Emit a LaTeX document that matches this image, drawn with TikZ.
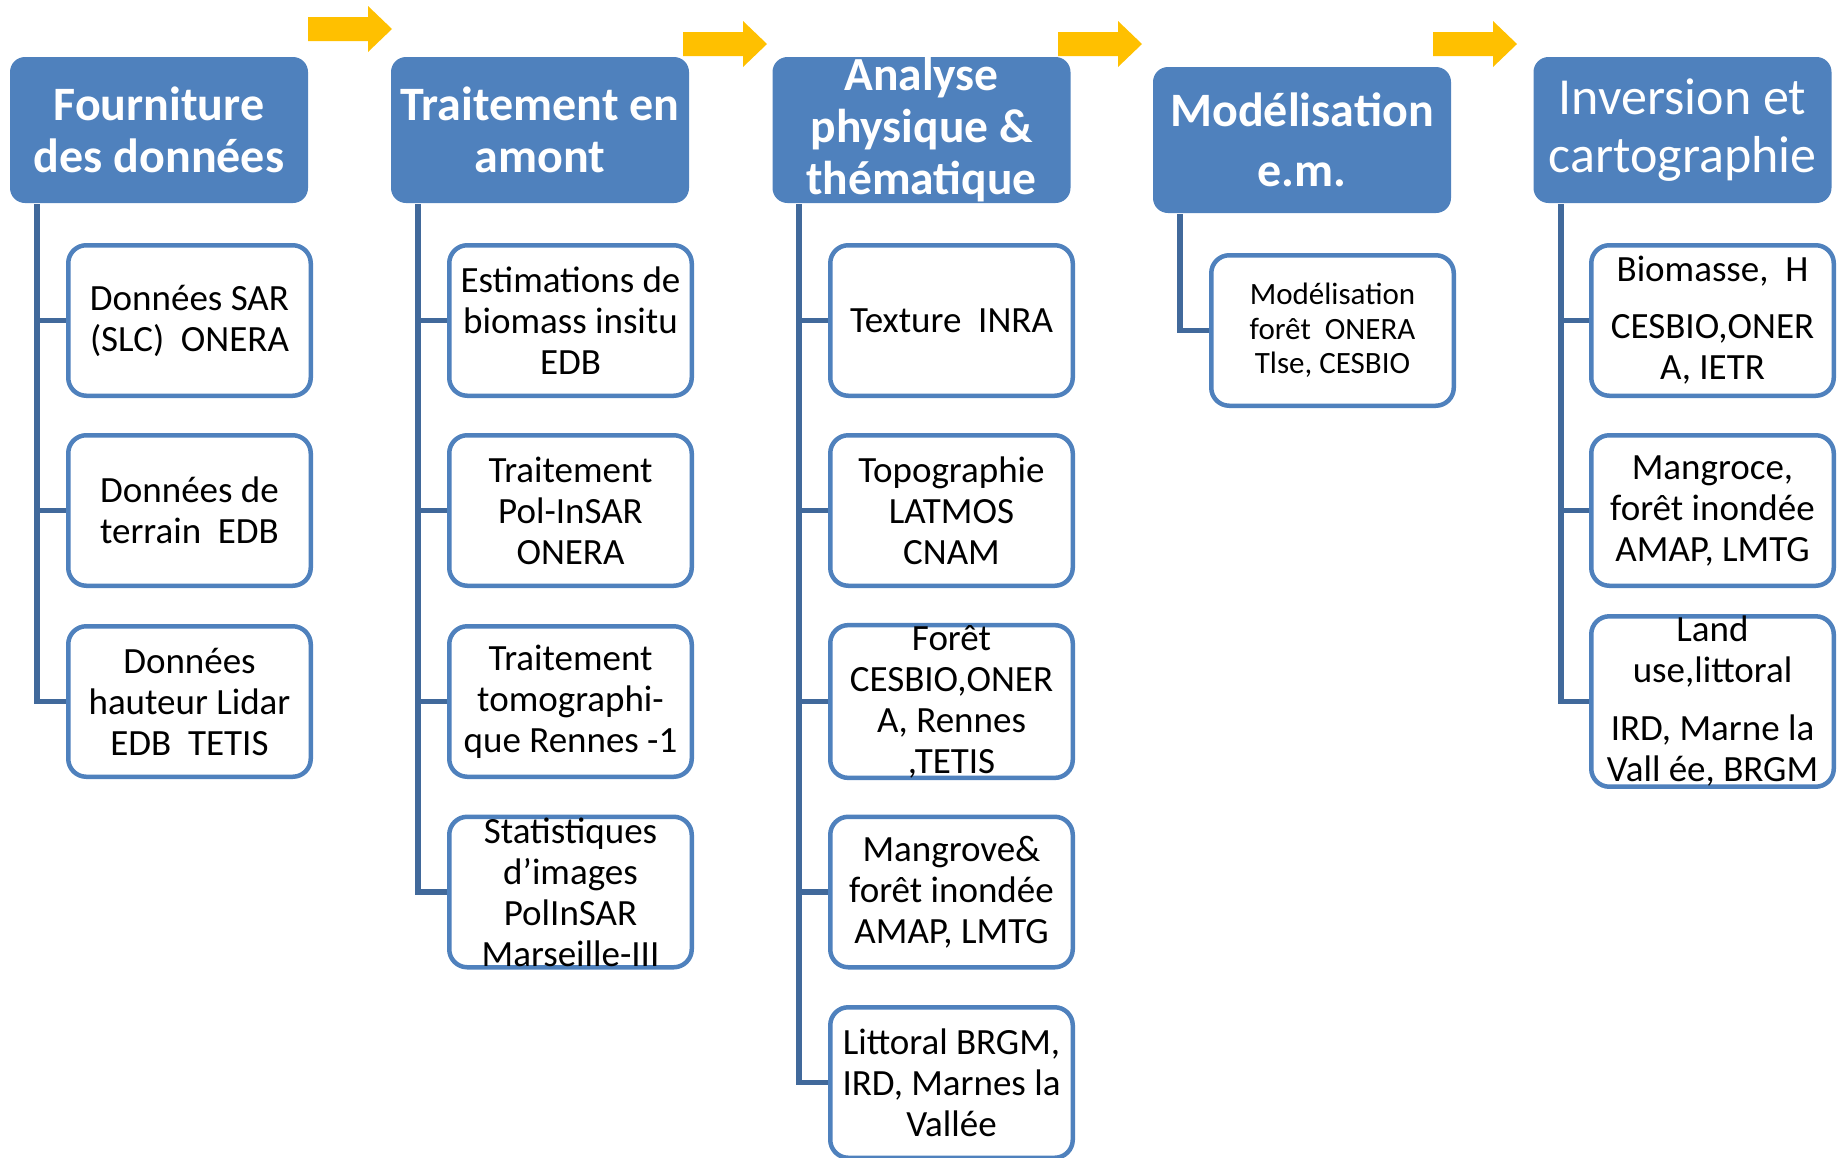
\documentclass[tikz,border=0pt]{standalone}
\usepackage{fontspec}
\setmainfont{Carlito}

\definecolor{ccbleu}{RGB}{79,129,189}
\definecolor{cctrait}{RGB}{65,105,155}
\definecolor{ccjaune}{RGB}{255,192,0}

\tikzset{
  etape/.style={fill=ccbleu, rounded corners=15pt, text=white, minimum width=298pt, minimum height=146pt, align=center, inner sep=0pt},
  tache/.style={draw=ccbleu, line width=4.5pt, fill=white, rounded corners=18pt, minimum width=242.5pt, minimum height=150.5pt, align=center, inner sep=0pt, font=\fontsize{37}{41}\selectfont},
  lien/.style={cctrait, line width=5.5pt},
  fleche/.style={fill=ccjaune}
}

\begin{document}
\begin{tikzpicture}[x=1pt, y=-1pt]

  \useasboundingbox (0,0) rectangle (1839,1157);

  % Fleches
  \fill[fleche] (308,17) -- ++(60,0) -- ++(0,-11) -- ++(24,23) -- ++(-24,23) -- ++(0,-11) -- ++(-60,0) -- cycle;
  \fill[fleche] (683,32) -- ++(60,0) -- ++(0,-11) -- ++(24,23) -- ++(-24,23) -- ++(0,-11) -- ++(-60,0) -- cycle;
  \fill[fleche] (1058,32) -- ++(60,0) -- ++(0,-11) -- ++(24,23) -- ++(-24,23) -- ++(0,-11) -- ++(-60,0) -- cycle;
  \fill[fleche] (1433,32) -- ++(60,0) -- ++(0,-11) -- ++(24,23) -- ++(-24,23) -- ++(0,-11) -- ++(-60,0) -- cycle;

  % Etapes
  \node[etape, font=\bfseries\fontsize{48}{52}\selectfont] (fourniture) at (159,130) {Fourniture\\des données};
  \node[etape, font=\bfseries\fontsize{48}{52}\selectfont] (traitement) at (540,130) {Traitement en\\amont};
  \node[etape, font=\bfseries\fontsize{47.5}{52}\selectfont] (analyse) at (921.5,130) {Analyse\\physique \&\\thématique};
  \node[etape, font=\bfseries\fontsize{48}{60}\selectfont] (modelisation) at (1302,140) {Modélisation\\e.m.};
  \node[etape, font=\fontsize{52}{58}\selectfont] (inversion) at (1682.5,130) {Inversion et\\cartographie};

  % Fourniture des donnees
  \node[tache] (sar) at (189.5,320.5) {Données SAR\\(SLC)~\ ONERA};
  \node[tache] (terrain) at (189.5,510.5) {Données de\\terrain~\ EDB};
  \node[tache] (lidar) at (189.5,701.5) {Données\\hauteur Lidar\\EDB~\ TETIS};

  % Traitement en amont
  \node[tache] (biomass) at (570.5,320.5) {Estimations de\\biomass insitu\\EDB};
  \node[tache] (polinsar) at (570.5,510.5) {Traitement\\Pol-InSAR\\ONERA};
  \node[tache] (tomo) at (570.5,701.5) {Traitement\\tomographi-\\que Rennes -1};
  \node[tache] (stats) at (570.5,892) {Statistiques\\d’images\\PolInSAR\\Marseille-III};

  % Analyse physique
  \node[tache] (texture) at (951.5,320.5) {Texture~\ INRA};
  \node[tache] (topo) at (951.5,510.5) {Topographie\\LATMOS\\CNAM};
  \node[tache] (foret) at (951.5,701.5) {Forêt\\CESBIO,ONER\\A, Rennes\\,TETIS};
  \node[tache] (mangrove) at (951.5,892) {Mangrove\&\\forêt inondée\\AMAP, LMTG};
  \node[tache] (littoral) at (951.5,1082.5) {Littoral\ BRGM,\\IRD, Marnes la\\Vallée};

  % Modelisation
  \node[tache, font=\fontsize{31}{34.5}\selectfont] (modforet) at (1332.5,330.5) {Modélisation\\forêt~\ ONERA\\Tlse, CESBIO};

  % Inversion
  \node[tache] (biomasse) at (1712.5,320.5) {Biomasse,~\ H\\[16pt]CESBIO,ONER\\A, IETR};
  \node[tache] (mangroce) at (1712.5,510.5) {Mangroce,\\forêt inondée\\AMAP, LMTG};
  \node[tache] (landuse) at (1712.5,701.5) {Land\\use,littoral\\[17pt]IRD, Marne la\\Vall ée, BRGM};

  % Liens
  \coordinate (tronc1) at (37,204);
  \coordinate (tronc2) at (418,204);
  \coordinate (tronc3) at (799,204);
  \coordinate (tronc4) at (1180,214);
  \coordinate (tronc5) at (1561,204);

  \draw[lien] (tronc1) |- (sar.west);
  \draw[lien] (tronc1) |- (terrain.west);
  \draw[lien] (tronc1) |- (lidar.west);

  \draw[lien] (tronc2) |- (biomass.west);
  \draw[lien] (tronc2) |- (polinsar.west);
  \draw[lien] (tronc2) |- (tomo.west);
  \draw[lien] (tronc2) |- (stats.west);

  \draw[lien] (tronc3) |- (texture.west);
  \draw[lien] (tronc3) |- (topo.west);
  \draw[lien] (tronc3) |- (foret.west);
  \draw[lien] (tronc3) |- (mangrove.west);
  \draw[lien] (tronc3) |- (littoral.west);

  \draw[lien] (tronc4) |- (modforet.west);

  \draw[lien] (tronc5) |- (biomasse.west);
  \draw[lien] (tronc5) |- (mangroce.west);
  \draw[lien] (tronc5) |- (landuse.west);

\end{tikzpicture}
\end{document}
